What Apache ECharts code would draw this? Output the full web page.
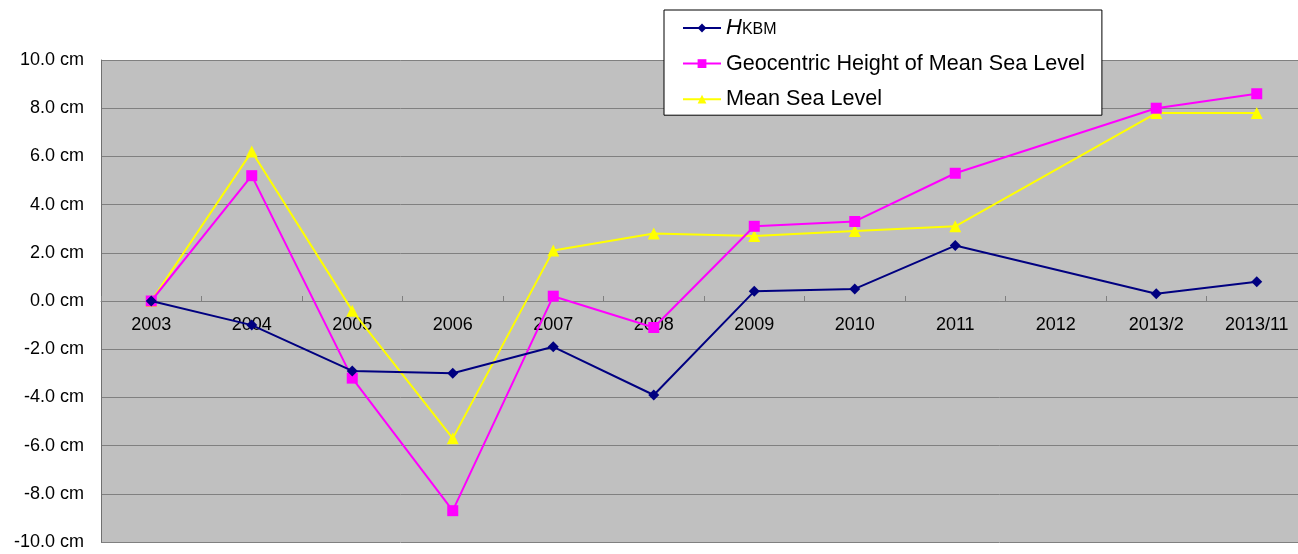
<!DOCTYPE html>
<html>
<head>
<meta charset="utf-8">
<script src="https://cdn.jsdelivr.net/npm/echarts@6/dist/echarts.min.js"></script>
<style>
  html, body { margin: 0; padding: 0; background: #ffffff; }
  #chart { width: 1298px; height: 554px; }
</style>
</head>
<body>
<div id="chart"></div>
<script>
// Survey periods
const categories = ['2003', '2004', '2005', '2006', '2007', '2008', '2009', '2010', '2011', '2012', '2013/2', '2013/11'];

// Height changes in cm relative to 2003 (no 2012 survey: null)
const hKbm = [0, -1.0, -2.9, -3.0, -1.9, -3.9, 0.4, 0.5, 2.3, null, 0.3, 0.8];
const geocentricMsl = [0, 5.2, -3.2, -8.7, 0.2, -1.1, 3.1, 3.3, 5.3, null, 8.0, 8.6];
const meanSeaLevel = [0, 6.2, -0.4, -5.7, 2.1, 2.8, 2.7, 2.9, 3.1, null, 7.8, 7.8];

// Value-axis range and step
const yMin = -10, yMax = 10, yStep = 2;

const FONT = '"Liberation Sans", Arial, sans-serif';

// Plot box
const PLOT_TOP = 60, PLOT_HEIGHT = 482;
// Category axis sits on the zero line: shift it up from the plot bottom
const zeroOffset = -PLOT_HEIGHT * (0 - yMin) / (yMax - yMin);

const chart = echarts.init(document.getElementById('chart'), null, { renderer: 'canvas' });

chart.setOption({
  animation: false,
  backgroundColor: '#ffffff',
  textStyle: { fontFamily: FONT },
  grid: {
    left: 101,
    top: PLOT_TOP,
    width: 1206,
    height: PLOT_HEIGHT,
    show: true,
    backgroundColor: '#c0c0c0',
    borderWidth: 0,
    containLabel: false,
    outerBoundsMode: 'none'
  },
  legend: {
    orient: 'vertical',
    left: 664,
    top: 10,
    padding: [7, 17, 5, 18],
    itemGap: 13.6,
    itemWidth: 38,
    itemHeight: 11,
    backgroundColor: '#ffffff',
    borderColor: '#000000',
    borderWidth: 1,
    borderRadius: 0,
    textStyle: {
      fontFamily: FONT,
      fontSize: 21.6,
      color: '#000000',
      rich: {
        h: { fontFamily: FONT, fontSize: 22, fontStyle: 'italic', color: '#000000' },
        s: { fontFamily: FONT, fontSize: 16, color: '#000000', padding: [4, 0, 0, 0] }
      }
    },
    formatter: function (name) {
      if (name === 'HKBM') return '{h|H}{s|KBM}';
      return name;
    },
    data: ['HKBM', 'Geocentric Height of Mean Sea Level', 'Mean Sea Level']
  },
  xAxis: {
    type: 'category',
    data: categories,
    boundaryGap: true,
    offset: zeroOffset,
    axisLine: { onZero: false, lineStyle: { color: '#808080', width: 1 } },
    axisTick: { show: true, inside: true, length: 5, interval: 0, lineStyle: { color: '#808080' } },
    axisLabel: { interval: 0, margin: 15, fontSize: 18, color: '#000000', fontFamily: FONT },
    splitLine: { show: false }
  },
  yAxis: {
    type: 'value',
    min: yMin,
    max: yMax,
    interval: yStep,
    axisLine: { show: true, lineStyle: { color: '#707070', width: 1 } },
    axisTick: { show: false },
    axisLabel: {
      margin: 17,
      fontSize: 18,
      color: '#000000',
      fontFamily: FONT,
      formatter: function (v) { return v.toFixed(1) + ' cm'; }
    },
    splitLine: { show: true, lineStyle: { color: '#808080', width: 1 } }
  },
  series: [
    {
      name: 'HKBM',
      type: 'line',
      data: hKbm,
      connectNulls: true,
      symbol: 'diamond',
      symbolSize: 11,
      z: 3,
      lineStyle: { color: '#000080', width: 2 },
      itemStyle: { color: '#000080' }
    },
    {
      name: 'Geocentric Height of Mean Sea Level',
      type: 'line',
      data: geocentricMsl,
      connectNulls: true,
      symbol: 'rect',
      symbolSize: 11,
      z: 2,
      lineStyle: { color: '#ff00ff', width: 2 },
      itemStyle: { color: '#ff00ff' }
    },
    {
      name: 'Mean Sea Level',
      type: 'line',
      data: meanSeaLevel,
      connectNulls: true,
      symbol: 'triangle',
      symbolSize: 12,
      z: 1,
      lineStyle: { color: '#ffff00', width: 2 },
      itemStyle: { color: '#ffff00' }
    }
  ]
});
</script>
</body>
</html>
